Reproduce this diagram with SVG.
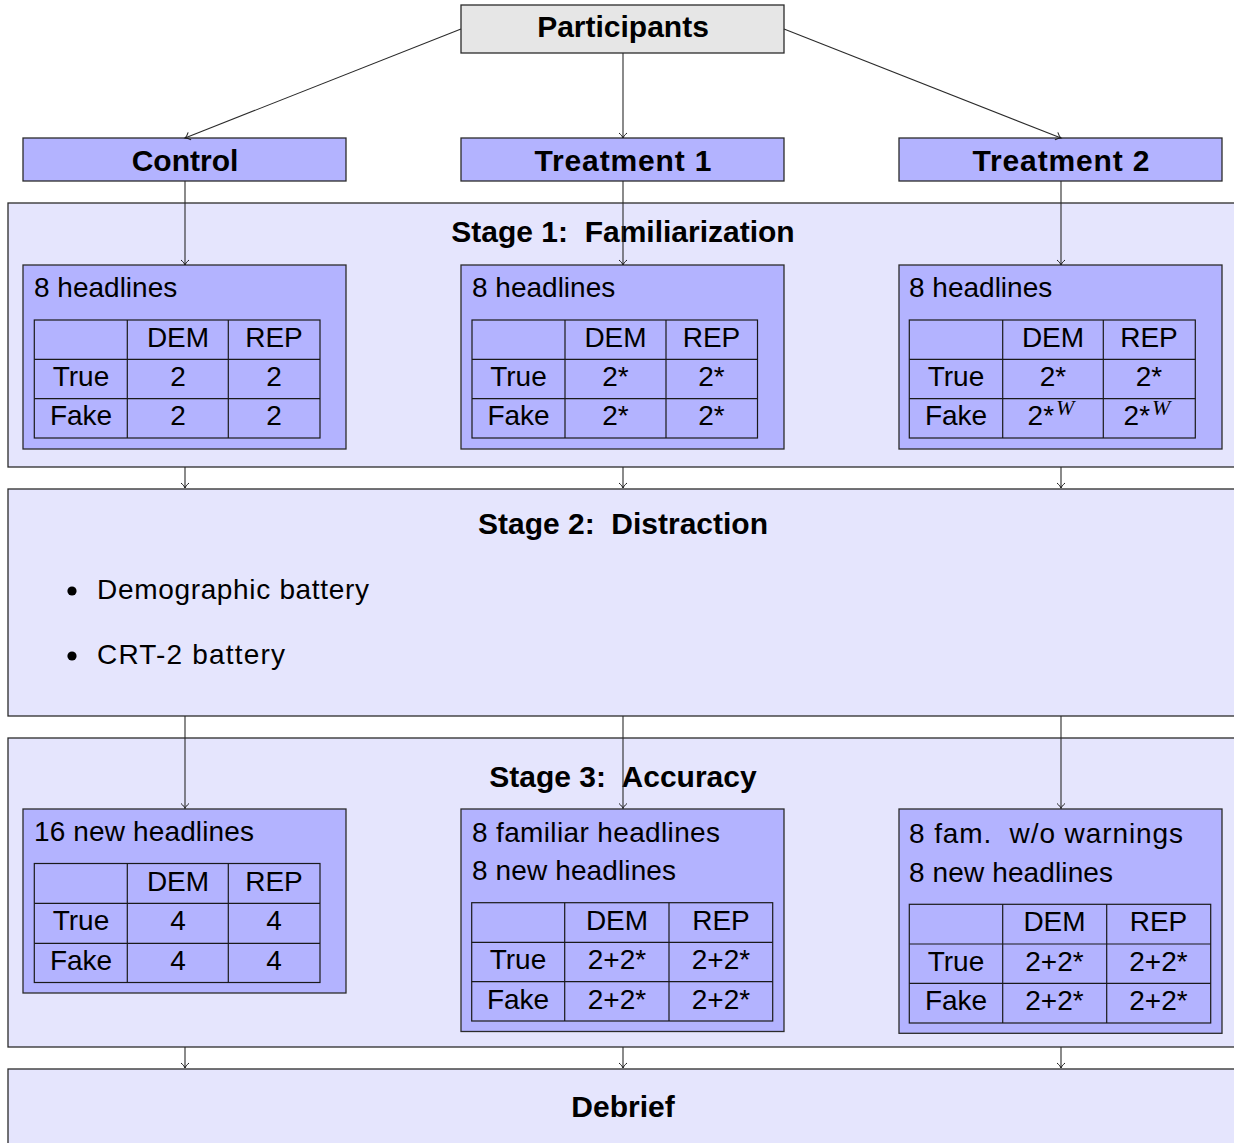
<svg xmlns="http://www.w3.org/2000/svg" width="1234" height="1143" viewBox="0 0 1234 1143">
  <style>
    .stage { fill: #e5e5fd; stroke: #2b2b2b; stroke-width: 1.3; }
    .group { fill: #b3b3ff; stroke: #2b2b2b; stroke-width: 1.3; }
    .root  { fill: #e6e6e6; stroke: #2b2b2b; stroke-width: 1.3; }
    .cell  { fill: none; stroke: #1a1a1a; stroke-width: 1.2; }
    .title { font-family: "Liberation Sans", Arial, sans-serif; font-weight: bold; font-size: 30px; fill: #000; text-anchor: middle; }
    .body  { font-family: "Liberation Sans", Arial, sans-serif; font-size: 28px; fill: #000; }
    .mid   { text-anchor: middle; }
    .sup   { font-family: "Liberation Serif", "Times New Roman", serif; font-style: italic; font-size: 22px; }
    .conn  { fill: none; stroke: #2b2b2b; stroke-width: 1.1; marker-end: url(#tip); }
  </style>
  <defs>
    <marker id="tip" markerUnits="userSpaceOnUse" viewBox="-8 -6 10 12" markerWidth="10" markerHeight="12" refX="0" refY="0" orient="auto">
      <path d="M-5,-4 C-3,-1.6 -1.2,-0.4 0,0 C-1.2,0.4 -3,1.6 -5,4" fill="none" stroke="#1a1a1a" stroke-width="1"/>
    </marker>
  </defs>

  <!-- top node -->
  <g id="participants">
    <rect class="root" x="461" y="5" width="323" height="48"/>
    <text class="title" x="623" y="37">Participants</text>
  </g>

  <!-- arms -->
  <g id="control">
    <rect class="group" x="23" y="138" width="323" height="43"/>
    <text class="title" x="185" y="171">Control</text>
  </g>
  <g id="treatment1">
    <rect class="group" x="461" y="138" width="323" height="43"/>
    <text class="title" x="623" y="171" textLength="177" lengthAdjust="spacing">Treatment 1</text>
  </g>
  <g id="treatment2">
    <rect class="group" x="899" y="138" width="323" height="43"/>
    <text class="title" x="1061" y="171" textLength="177" lengthAdjust="spacing">Treatment 2</text>
  </g>

  <!-- stage 1 -->
  <g id="stage1">
    <rect class="stage" x="8" y="203" width="1240" height="264"/>
    <text class="title" x="623" y="242" xml:space="preserve">Stage 1:  Familiarization</text>
  </g>

  <g id="s1-control">
    <rect class="group" x="23" y="265" width="323" height="184"/>
    <text class="body" x="34" y="297">8 headlines</text>
    <rect class="cell" x="34.3" y="320" width="285.7" height="118"/>
    <path class="cell" d="M34.3,359.3H320M34.3,398.7H320M127.3,320V438M228.3,320V438"/>
    <text class="body mid" x="178" y="347">DEM</text>
    <text class="body mid" x="274" y="347">REP</text>
    <text class="body mid" x="81" y="386">True</text>
    <text class="body mid" x="178" y="386">2</text>
    <text class="body mid" x="274" y="386">2</text>
    <text class="body mid" x="81" y="425">Fake</text>
    <text class="body mid" x="178" y="425">2</text>
    <text class="body mid" x="274" y="425">2</text>
  </g>

  <g id="s1-treatment1">
    <rect class="group" x="461" y="265" width="323" height="184"/>
    <text class="body" x="472" y="297">8 headlines</text>
    <rect class="cell" x="472" y="320" width="285.5" height="118"/>
    <path class="cell" d="M472,359.3H757.5M472,398.7H757.5M565,320V438M666,320V438"/>
    <text class="body mid" x="615.5" y="347">DEM</text>
    <text class="body mid" x="711.5" y="347">REP</text>
    <text class="body mid" x="518.5" y="386">True</text>
    <text class="body mid" x="615.5" y="386">2*</text>
    <text class="body mid" x="711.5" y="386">2*</text>
    <text class="body mid" x="518.5" y="425">Fake</text>
    <text class="body mid" x="615.5" y="425">2*</text>
    <text class="body mid" x="711.5" y="425">2*</text>
  </g>

  <g id="s1-treatment2">
    <rect class="group" x="899" y="265" width="323" height="184"/>
    <text class="body" x="909" y="297">8 headlines</text>
    <rect class="cell" x="909.3" y="320" width="286" height="118"/>
    <path class="cell" d="M909.3,359.3H1195.3M909.3,398.7H1195.3M1002.7,320V438M1103.3,320V438"/>
    <text class="body mid" x="1053" y="347">DEM</text>
    <text class="body mid" x="1149" y="347">REP</text>
    <text class="body mid" x="956" y="386">True</text>
    <text class="body mid" x="1053" y="386">2*</text>
    <text class="body mid" x="1149" y="386">2*</text>
    <text class="body mid" x="956" y="425">Fake</text>
    <text class="body mid" x="1051" y="425">2*<tspan class="sup" dx="2" dy="-10">W</tspan></text>
    <text class="body mid" x="1147" y="425">2*<tspan class="sup" dx="2" dy="-10">W</tspan></text>
  </g>

  <!-- stage 2 -->
  <g id="stage2">
    <rect class="stage" x="8" y="489" width="1240" height="227"/>
    <text class="title" x="623" y="534" xml:space="preserve">Stage 2:  Distraction</text>
    <circle cx="72" cy="591" r="4.6" fill="#000"/>
    <text class="body" x="97" y="599" textLength="272" lengthAdjust="spacing">Demographic battery</text>
    <circle cx="72" cy="656" r="4.6" fill="#000"/>
    <text class="body" x="97" y="664" textLength="188" lengthAdjust="spacing">CRT-2 battery</text>
  </g>

  <!-- stage 3 -->
  <g id="stage3">
    <rect class="stage" x="8" y="738" width="1240" height="309"/>
    <text class="title" x="623" y="787" xml:space="preserve">Stage 3:  Accuracy</text>
  </g>

  <g id="s3-control">
    <rect class="group" x="23" y="809" width="323" height="184"/>
    <text class="body" x="34" y="841" textLength="220" lengthAdjust="spacing">16 new headlines</text>
    <rect class="cell" x="34.3" y="863.5" width="285.7" height="119"/>
    <path class="cell" d="M34.3,903.3H320M34.3,943.3H320M127.3,863.5V982.5M228.3,863.5V982.5"/>
    <text class="body mid" x="178" y="891">DEM</text>
    <text class="body mid" x="274" y="891">REP</text>
    <text class="body mid" x="81" y="930">True</text>
    <text class="body mid" x="178" y="930">4</text>
    <text class="body mid" x="274" y="930">4</text>
    <text class="body mid" x="81" y="970">Fake</text>
    <text class="body mid" x="178" y="970">4</text>
    <text class="body mid" x="274" y="970">4</text>
  </g>

  <g id="s3-treatment1">
    <rect class="group" x="461" y="809" width="323" height="222.5"/>
    <text class="body" x="472" y="841.5" textLength="248" lengthAdjust="spacing">8 familiar headlines</text>
    <text class="body" x="472" y="880" textLength="204" lengthAdjust="spacing">8 new headlines</text>
    <rect class="cell" x="471.7" y="902.7" width="301" height="118.3"/>
    <path class="cell" d="M471.7,942.3H772.7M471.7,981.7H772.7M564.7,902.7V1021M669,902.7V1021"/>
    <text class="body mid" x="617" y="929.5">DEM</text>
    <text class="body mid" x="721" y="929.5">REP</text>
    <text class="body mid" x="518" y="969">True</text>
    <text class="body mid" x="617" y="969">2+2*</text>
    <text class="body mid" x="721" y="969">2+2*</text>
    <text class="body mid" x="518" y="1008.5">Fake</text>
    <text class="body mid" x="617" y="1008.5">2+2*</text>
    <text class="body mid" x="721" y="1008.5">2+2*</text>
  </g>

  <g id="s3-treatment2">
    <rect class="group" x="899" y="809" width="323" height="224.3"/>
    <text class="body" x="909" y="843.3" xml:space="preserve" textLength="274" lengthAdjust="spacing">8 fam.  w/o warnings</text>
    <text class="body" x="909" y="881.7" textLength="204" lengthAdjust="spacing">8 new headlines</text>
    <rect class="cell" x="909.3" y="904.3" width="301.4" height="118.7"/>
    <path class="cell" d="M909.3,944H1210.7M909.3,983.3H1210.7M1002.7,904.3V1023M1106.7,904.3V1023"/>
    <text class="body mid" x="1054.5" y="931">DEM</text>
    <text class="body mid" x="1158.5" y="931">REP</text>
    <text class="body mid" x="956" y="970.5">True</text>
    <text class="body mid" x="1054.5" y="970.5">2+2*</text>
    <text class="body mid" x="1158.5" y="970.5">2+2*</text>
    <text class="body mid" x="956" y="1010">Fake</text>
    <text class="body mid" x="1054.5" y="1010">2+2*</text>
    <text class="body mid" x="1158.5" y="1010">2+2*</text>
  </g>

  <!-- final stage -->
  <g id="debrief">
    <rect class="stage" x="8" y="1069" width="1240" height="90"/>
    <text class="title" x="623" y="1117">Debrief</text>
  </g>

  <!-- connectors -->
  <g id="connectors">
    <path class="conn" d="M461,29L185,138"/>
    <path class="conn" d="M623,53V138"/>
    <path class="conn" d="M784,29L1061,138"/>
    <path class="conn" d="M185,181V265"/>
    <path class="conn" d="M623,181V265"/>
    <path class="conn" d="M1061,181V265"/>
    <path class="conn" d="M185,467V488"/>
    <path class="conn" d="M623,467V488"/>
    <path class="conn" d="M1061,467V488"/>
    <path class="conn" d="M185,716V808.5"/>
    <path class="conn" d="M623,716V808.5"/>
    <path class="conn" d="M1061,716V808.5"/>
    <path class="conn" d="M185,1047V1068"/>
    <path class="conn" d="M623,1047V1068"/>
    <path class="conn" d="M1061,1047V1068"/>
  </g>
</svg>
